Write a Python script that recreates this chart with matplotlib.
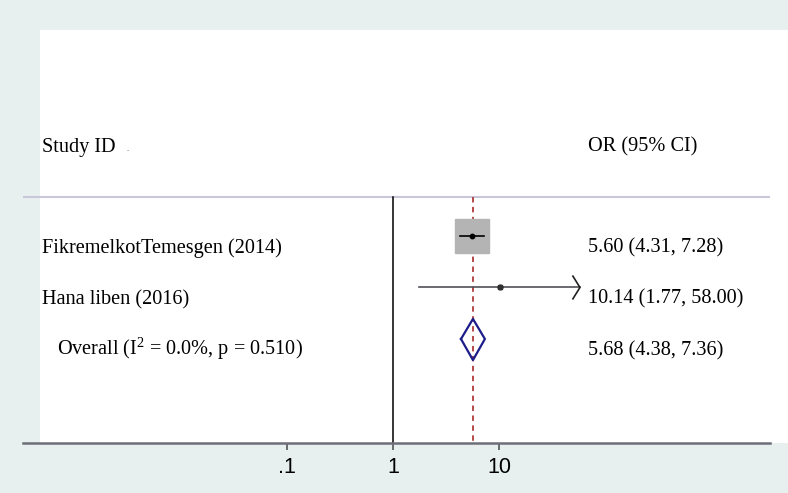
import matplotlib
matplotlib.use("Agg")
import matplotlib.pyplot as plt
import matplotlib.transforms as mtransforms
from matplotlib.patches import Rectangle
import numpy as np

plt.rcParams["mathtext.fontset"] = "custom"
plt.rcParams["mathtext.rm"] = "Liberation Serif"
plt.rcParams["mathtext.it"] = "Liberation Serif:italic"

# ---- data ----
studies = ["FikremelkotTemesgen (2014)", "Hana liben (2016)"]
or_vals = [5.60, 10.14]
ci_low = [4.31, 1.77]
ci_high = [7.28, 58.00]
weight_marker = [24, 3]          # marker sizes (pt) ~ study weights
overall_label = r"Overall (I$^\mathrm{2}$ = 0.0%, p = 0.510)"
overall_or = 5.68
overall_low = 4.38
overall_high = 7.36
right_labels = ["5.60 (4.31, 7.28)", "10.14 (1.77, 58.00)", "5.68 (4.38, 7.36)"]
tick_vals = [0.1, 1, 10]
tick_labels = [".1", "1", "10"]

W, H = 788, 493
bg = "#e8efef"
fig = plt.figure(figsize=(W / 100, H / 100), dpi=100, facecolor=bg)

# white plot region
fig.patches.append(Rectangle((40 / W, (H - 443) / H), (W - 40) / W, (443 - 30) / H,
                             transform=fig.transFigure, facecolor="white",
                             edgecolor="none", zorder=-10))

ax = fig.add_axes([23 / W, (H - 443) / H, (770 - 23) / W, (443 - 30) / H])
ax.set_facecolor("none")
ax.set_xscale("log")
dec = 106.0
ax.set_xlim(10 ** ((23 - 393) / dec), 10 ** ((770 - 393) / dec))
ax.set_ylim(5.02, -3.0)

serif = "Liberation Serif"
fs = 14.6

rows = [1, 2]
orow = 3
sep_y = 0.243

# separator line
ax.axhline(sep_y, color="#c8c8da", lw=1.5, zorder=1)
# null line and overall dashed line
ax.plot([1, 1], [sep_y, 5.02], color="black", lw=1.1, zorder=2)
ax.plot([overall_or, overall_or], [sep_y, 5.02], color="#b03a3a", lw=1.3,
        ls=(0, (3, 2.5)), zorder=2)

# studies
for i, (y, o, lo, hi, ms) in enumerate(zip(rows, or_vals, ci_low, ci_high, weight_marker)):
    ax.plot([o], [y], marker="s", ms=ms, color="#b4b4b4", mec="#b4b4b4", zorder=3, ls="none")
    col = "black" if i == 0 else "#505058"
    ax.plot([lo, hi], [y, y], color=col, lw=1.2, zorder=4)
    ax.plot([o], [y], marker="o", ms=3.2, color="black", zorder=5, ls="none")
    if i == 1:
        ax.plot([o], [y], marker="s", ms=3.5, color="#303030", zorder=5, ls="none")
        # arrow chevron at clipped upper CI
        ax.plot([hi * 10 ** (-7 / dec), hi, hi * 10 ** (-7 / dec)],
                [y - 0.22, y, y + 0.22], color="#202020", lw=1.2, zorder=4)

# overall diamond
ax.plot([overall_low, overall_or, overall_high, overall_or, overall_low],
        [orow, orow - 0.39, orow, orow + 0.41, orow],
        color="#1c1c8a", lw=1.6, zorder=5)

# axis styling
for s in ["left", "right", "top"]:
    ax.spines[s].set_visible(False)
ax.spines["bottom"].set_color("#6e6e78")
ax.spines["bottom"].set_linewidth(1.8)
ax.set_yticks([])
ax.set_xticks(tick_vals)
ax.set_xticklabels(tick_labels, fontfamily="Liberation Sans", fontsize=15.5)
ax.xaxis.set_minor_locator(matplotlib.ticker.NullLocator())
ax.tick_params(axis="x", direction="out", length=5, width=1.2, color="#555555", pad=5)

# text
tr = mtransforms.blended_transform_factory(fig.transFigure, ax.transData)
ax.text(42 / W, -0.64, "Study ID", transform=tr, fontfamily=serif, fontsize=fs,
        va="baseline", ha="left")
ax.text(126 / W, -0.66, ".", transform=tr, fontfamily=serif, fontsize=6,
        va="baseline", ha="left", color="#555555")
ax.text(588 / W, -0.64, "OR (95% CI)", transform=tr, fontfamily=serif, fontsize=fs,
        va="baseline", ha="left")
for y, s in zip(rows, studies):
    ax.text(42 / W, y + 0.33, s, transform=tr, fontfamily=serif, fontsize=fs,
            va="baseline", ha="left")
ax.text(57 / W, orow + 0.3, overall_label, transform=tr, fontfamily=serif, fontsize=fs,
        va="baseline", ha="left")
for y, s in zip(rows + [orow], right_labels):
    ax.text(588 / W, y + 0.32, s, transform=tr, fontfamily=serif, fontsize=fs,
            va="baseline", ha="left")

fig.savefig("out.png", dpi=100, facecolor=bg)
